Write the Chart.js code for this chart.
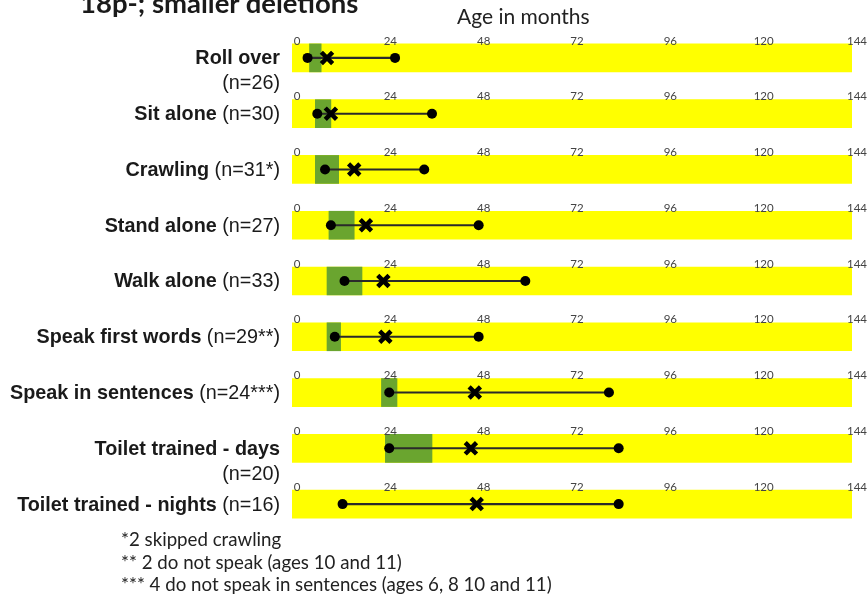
<!DOCTYPE html>
<html>
<head>
<meta charset="utf-8">
<script src="https://cdn.jsdelivr.net/npm/chart.js@4/dist/chart.umd.min.js"></script>
<style>
  body { margin: 0; background: #fff; }
  #wrap { position: relative; width: 868px; height: 600px; overflow: hidden; }
  #chart { position: absolute; left: 0; top: 0; }
  .title { position: absolute; left: 80px; top: -14px; font: bold 27.5px Lato, sans-serif; color: #1a1a1a; white-space: nowrap; }
  .axis-title { position: absolute; left: 457px; top: 3px; font: 21px Lato, sans-serif; color: #222; white-space: nowrap; }
  .notes { position: absolute; left: 121px; top: 528px; font: 18.7px Lato, sans-serif; color: #222; line-height: 22.5px; white-space: nowrap; }
</style>
</head>
<body>
<div id="wrap">
  <canvas id="chart" width="868" height="600"></canvas>
  <div class="title">18p-; smaller deletions</div>
  <div class="axis-title">Age in months</div>
  <div class="notes">
    *2 skipped crawling<br>
    ** 2 do not speak (ages 10 and 11)<br>
    *** 4 do not speak in sentences (ages 6, 8 10 and 11)
  </div>
</div>
<script>
const categories = ["Roll over", "Sit alone", "Crawling", "Stand alone", "Walk alone",
    "Speak first words", "Speak in sentences", "Toilet trained - days", "Toilet trained - nights"];
const counts = ["(n=26)", "(n=30)", "(n=31*)", "(n=27)", "(n=33)", "(n=29**)", "(n=24***)", "(n=20)", "(n=16)"];
const twoLineLabels = ["Roll over", "Toilet trained - days"];

// typical range (green box), months
const typicalLow  = [4.5, 6,  6,  9.5, 9,  9,    23,   24,  null];
const typicalHigh = [7.5, 10, 12, 16,  18, 12.5, 27,   36,  null];
// earliest / median / latest age
const earliest = [4,    6.5, 8.5, 10, 13.5, 11, 25,   25, 13];
const median   = [9,    10,  16,  19, 23.5, 24, 47,   46, 47.5];
const latest   = [26.5, 36,  34,  48, 60,   48, 81.5, 84, 84];

const axisTicks = [0, 24, 48, 72, 96, 120, 144];

const fullRange = categories.map(() => [axisTicks[0], axisTicks[axisTicks.length - 1]]);
const typicalRange = categories.map((c, i) => typicalLow[i] == null ? null : [typicalLow[i], typicalHigh[i]]);
const spanRange = categories.map((c, i) => [earliest[i], latest[i]]);

// draws the row labels (bold name + regular count) and the repeated tick labels above each row
const rowDecor = {
    id: "rowDecor",
    afterDraw(chart) {
        const ctx = chart.ctx;
        const x = chart.scales.x;
        const y = chart.scales.y;
        const barTop = 14;
        const labelFont = "19.8px 'Liberation Sans', Arial, sans-serif";

        ctx.save();
        ctx.fillStyle = "#1a1a1a";
        ctx.textBaseline = "middle";
        categories.forEach((name, i) => {
            const cy = y.getPixelForValue(i);
            const right = x.left - 12;
            ctx.textAlign = "right";
            if (twoLineLabels.includes(name)) {
                ctx.font = "bold " + labelFont;
                ctx.fillText(name, right, cy + 1);
                ctx.font = labelFont;
                ctx.fillText(counts[i], right, cy + 26);
            } else {
                ctx.font = labelFont;
                const nText = " " + counts[i];
                ctx.fillText(nText, right, cy + 1);
                const w = ctx.measureText(nText).width;
                ctx.font = "bold " + labelFont;
                ctx.fillText(name, right - w, cy + 1);
            }

            // tick labels for this row
            ctx.font = "11.5px Lato, sans-serif";
            ctx.fillStyle = "#444";
            ctx.textAlign = "center";
            axisTicks.forEach(t => {
                ctx.fillText(String(t), x.getPixelForValue(t) + 5, cy - barTop - 3);
            });
            ctx.fillStyle = "#1a1a1a";
        });
        ctx.restore();
    }
};

new Chart(document.getElementById("chart"), {
    type: "bar",
    data: {
        labels: categories,
        datasets: [
            {
                data: fullRange,
                backgroundColor: "#ffff00",
                barThickness: 28,
                grouped: false,
                order: 5,
            },
            {
                data: typicalRange,
                backgroundColor: "#6aa52f",
                barThickness: 28,
                grouped: false,
                order: 4,
            },
            {
                data: spanRange,
                backgroundColor: "#2a2a2a",
                barThickness: 1.4,
                grouped: false,
                order: 3,
            },
            {
                type: "line",
                data: earliest,
                showLine: false,
                pointStyle: "circle",
                pointRadius: 5,
                pointBackgroundColor: "#000",
                pointBorderWidth: 0,
                order: 2,
            },
            {
                type: "line",
                data: latest,
                showLine: false,
                pointStyle: "circle",
                pointRadius: 5,
                pointBackgroundColor: "#000",
                pointBorderWidth: 0,
                order: 2,
            },
            {
                type: "line",
                data: median,
                showLine: false,
                pointStyle: "crossRot",
                pointRadius: 8,
                pointBorderColor: "#000",
                pointBorderWidth: 4.5,
                order: 1,
            },
        ]
    },
    options: {
        indexAxis: "y",
        responsive: false,
        animation: false,
        layout: {
            padding: { left: 292, right: 16, top: 30, bottom: 68 }
        },
        scales: {
            x: {
                display: false,
                min: 0,
                max: 144,
            },
            y: {
                display: false,
            },
        },
        plugins: {
            legend: { display: false },
            tooltip: { enabled: false },
        }
    },
    plugins: [rowDecor]
});
</script>
</body>
</html>
